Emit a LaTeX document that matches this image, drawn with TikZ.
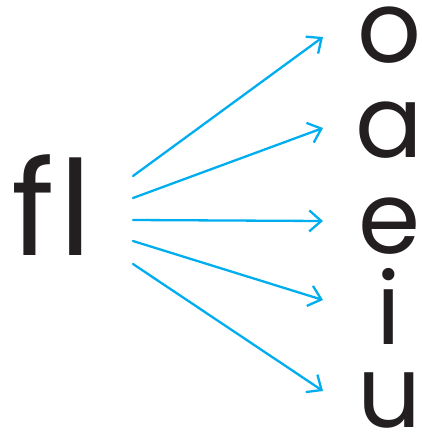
\documentclass[tikz,border=0pt]{standalone}
\usepackage{fontspec}
\setmainfont{Poppins}
\usetikzlibrary{arrows.meta}
\definecolor{arrowcyan}{RGB}{0,174,239}
\definecolor{inkblack}{RGB}{35,31,32}
\begin{document}
\begin{tikzpicture}[x=1pt,y=-1pt,line cap=round,line join=round]
	\useasboundingbox (0,0) rectangle (422,432);
	\tikzset{vowel/.style={anchor=base,inner sep=0pt,text height=60pt,text depth=0pt,text=inkblack,font=\fontsize{100}{100}\selectfont},
		arr/.style={draw=arrowcyan,line width=2.3pt,-{Straight Barb[length=12pt,width=21pt,line width=2.3pt]}}}
	\node[anchor=base,inner sep=0pt,text=inkblack,font=\fontsize{132}{132}\selectfont] (fl) at (52,255) {f\kern5pt l};
	\foreach \v/\y in {o/62,a/157,e/253,i/344,u/427}{\node[vowel] (\v) at (389,\y) {\v};}
	\foreach \v/\s/\t in {o/176/37,a/198/128,e/220/221,i/241/300,u/264/391}{
		\coordinate (s\v) at (133,\s);\coordinate (t\v) at (323,\t);
		\draw[arr] (s\v) -- (t\v);}
\end{tikzpicture}
\end{document}
